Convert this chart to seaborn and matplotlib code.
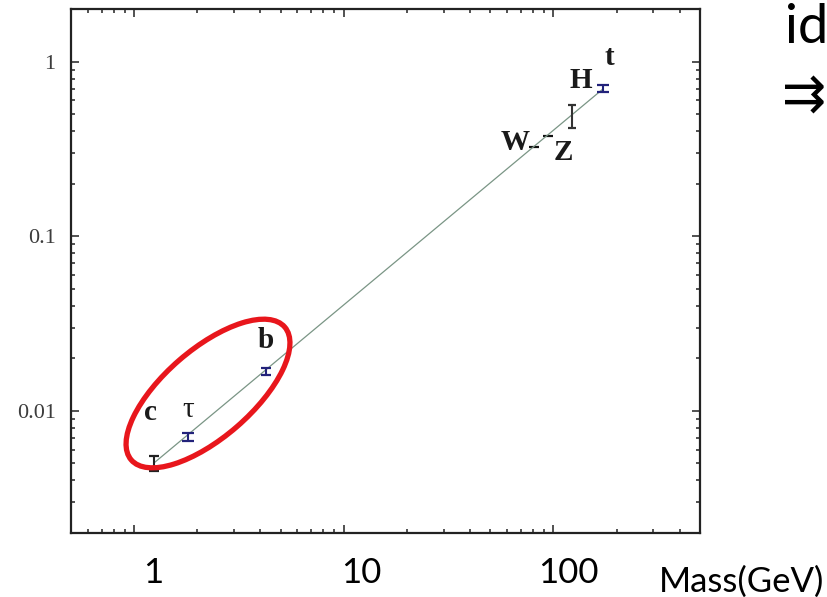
import numpy as np
import matplotlib
matplotlib.use("Agg")
import matplotlib.pyplot as plt
from matplotlib.patches import Ellipse
from matplotlib.transforms import IdentityTransform
from matplotlib.ticker import LogLocator, FixedLocator, FixedFormatter, NullFormatter
import seaborn as sns

# ---------------------------------------------------------------------------
# data (mass in GeV, coupling strength)
# ---------------------------------------------------------------------------
particles = ['c', 'τ', 'b', 'W', 'Z', 'H', 't']
mass = [1.25, 1.81, 4.25, 81.0, 94.7, 122.0, 173.0]
coupling = [0.0050, 0.0071, 0.0169, 0.323, 0.373, 0.482, 0.701]
err_lo = [0.0005, 0.0004, 0.0008, 0.0, 0.0, 0.068, 0.03]
err_hi = [0.0005, 0.0004, 0.0008, 0.0, 0.0, 0.079, 0.03]

fit_mass = [1.25, 173.0]
fit_coupling = [0.00506, 0.700]

ytick_vals = [0.01, 0.1, 1]
ytick_labels = ['0.01', '0.1', '1']
xtick_labels = ['1', '10', '100']
xlabel = 'Mass(GeV)'

# style per particle
NAVY = '#22227a'
marker_color = ['#222222', NAVY, NAVY, '#111111', '#111111', '#333333', NAVY]
capsize = [3.8, 4.3, 3.8, 0, 0, 3.0, 4.3]
label_offset = [(-4, 51), (0, 27), (0, 31), (-19, 5), (15, -16), (9, 36), (6, 31)]

sns.set_style('ticks')

fig = plt.figure(figsize=(8.27, 5.97), dpi=100)
ax = fig.add_axes([71 / 827, 64 / 597, 629 / 827, 524 / 597])
ax.set_xscale('log')
ax.set_yscale('log')

# fitted line
sns.lineplot(x=fit_mass, y=fit_coupling, color='#7a9585', linewidth=0.9, ax=ax)

# measured points
for i, p in enumerate(particles):
    if p in ('W', 'Z'):
        sns.scatterplot(x=[mass[i]], y=[coupling[i]], marker='_', s=45,
                        color=marker_color[i], linewidth=1.6, ax=ax)
    else:
        ax.errorbar([mass[i]], [coupling[i]], yerr=[[err_lo[i]], [err_hi[i]]],
                    fmt='none', ecolor=marker_color[i], elinewidth=1.5,
                    capsize=capsize[i], capthick=1.6)
    style = 'normal' if p == 'τ' else 'bold'
    ax.annotate(p, (mass[i], coupling[i]), xytext=label_offset[i],
                textcoords='offset pixels', ha='center', va='center',
                fontsize=21, fontweight=style, family='Liberation Serif',
                color='#1a1a1a')

ax.set_xlim(0.5, 500)
ax.set_ylim(0.002, 2)

ax.yaxis.set_major_locator(FixedLocator(ytick_vals))
ax.yaxis.set_major_formatter(FixedFormatter(ytick_labels))
ax.yaxis.set_minor_locator(LogLocator(base=10, subs=np.arange(2, 10)))
ax.yaxis.set_minor_formatter(NullFormatter())
ax.xaxis.set_minor_locator(LogLocator(base=10, subs=np.arange(2, 10)))
ax.xaxis.set_major_formatter(NullFormatter())
ax.xaxis.set_minor_formatter(NullFormatter())

ax.tick_params(which='both', direction='in', top=True, right=True, width=1.1,
               color='#222222')
ax.tick_params(which='major', length=5.8)
ax.tick_params(which='minor', length=2.9)
ax.tick_params(axis='y', which='major', pad=11, labelsize=16, labelcolor='#3c3c3c')
for lab in ax.get_yticklabels():
    lab.set_family('Liberation Serif')
for sp in ax.spines.values():
    sp.set_linewidth(1.6)
    sp.set_color('#222222')
    sp.set_visible(True)

# slide-level axis annotations
xlab_pos = [153, 361, 568]
for lab, px in zip(xtick_labels, xlab_pos):
    fig.text(px / 827, (597 - 583) / 597, lab, ha='center', va='baseline',
             fontsize=25, family='Lato', color='black')
fig.text(824 / 827, (597 - 592) / 597, xlabel, ha='right', va='baseline',
         fontsize=25, family='Lato', color='black')

# partially visible slide text at the right edge
fig.text(785 / 827, (597 - 43) / 597, 'id', ha='left', va='baseline',
         fontsize=39, family='Lato', color='black')
fig.text(782 / 827, (597 - 97) / 597, '⇉', ha='left', va='center',
         fontsize=38, family=['Lato', 'DejaVu Sans'], color='black')

# red highlight around the light fermions
ell = Ellipse((208, 597 - 393.5), width=203, height=88, angle=40.9,
              transform=IdentityTransform(), fill=False, edgecolor='#e8161c',
              linewidth=3.8, clip_on=False)
fig.add_artist(ell)

fig.savefig('out.png', dpi=100)
